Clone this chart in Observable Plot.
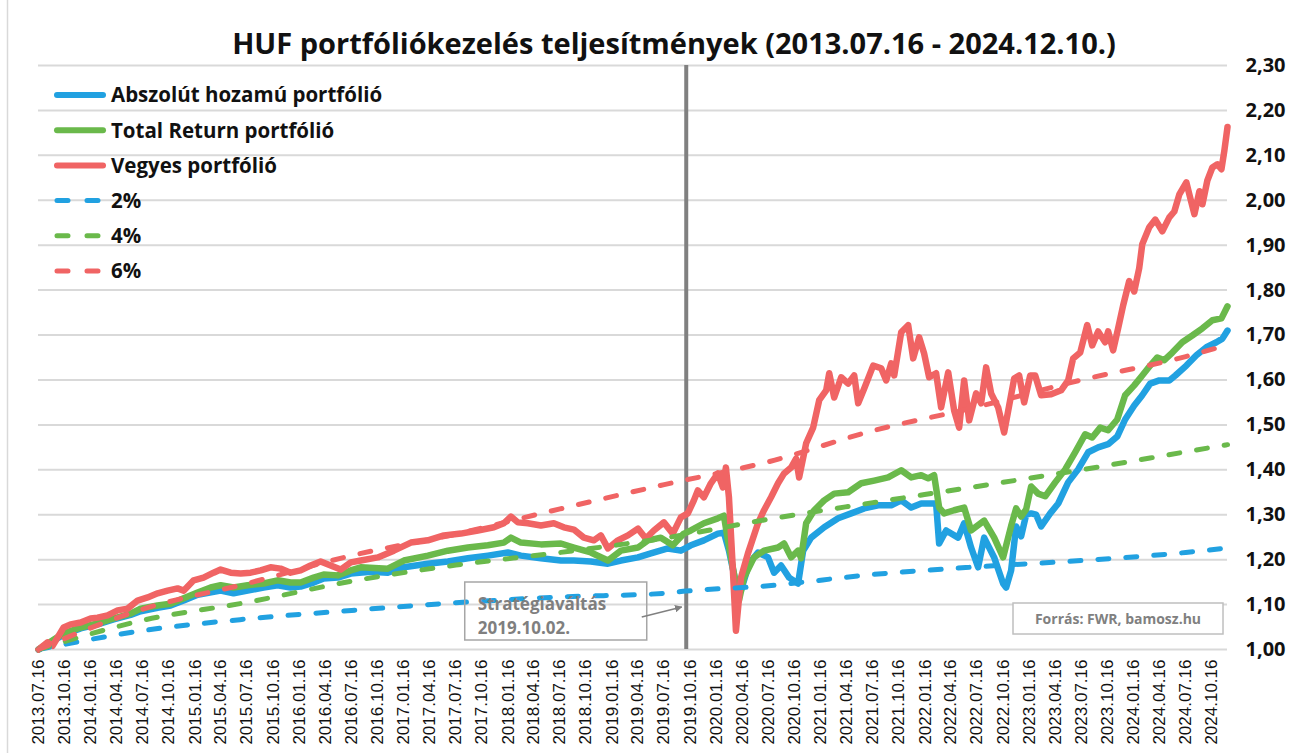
<!DOCTYPE html>
<html><head><meta charset="utf-8">
<script src="https://cdn.jsdelivr.net/npm/d3@7"></script>
<script src="https://cdn.jsdelivr.net/npm/@observablehq/plot@0.6"></script>
<style>
body{margin:0;background:#fff;}
#chart{position:relative;width:1289px;height:753px;}
</style></head><body><div id="chart"></div>
<script>
const chartTitle = "HUF portfóliókezelés teljesítmények (2013.07.16 - 2024.12.10.)";
const seriesNames = ["Abszolút hozamú portfólió","Total Return portfólió","Vegyes portfólió","2%","4%","6%"];
const seriesColors = ["#21a1e1","#6ab94b","#f06464","#21a1e1","#6ab94b","#f06464"];
const switchLabel = ["Stratégiaváltás","2019.10.02."];
const switchDate = "2019.10.02";
const sourceText = "Forrás: FWR, bamosz.hu";
const startDate = "2013.07.16", endDate = "2024.12.10";

// values: [decimal year, index value]
const abszolut = [[2013.537,1.000],[2013.778,1.033],[2013.941,1.047],[2014.104,1.056],[2014.258,1.067],[2014.421,1.077],[2014.517,1.085],[2014.680,1.093],[2014.805,1.098],[2014.930,1.109],[2015.064,1.122],[2015.285,1.131],[2015.409,1.125],[2015.544,1.131],[2015.697,1.138],[2015.832,1.143],[2015.956,1.138],[2016.052,1.140],[2016.177,1.149],[2016.273,1.158],[2016.408,1.160],[2016.532,1.169],[2016.724,1.173],[2016.887,1.171],[2017.041,1.183],[2017.271,1.191],[2017.463,1.196],[2017.655,1.203],[2017.847,1.209],[2018.039,1.216],[2018.164,1.209],[2018.356,1.203],[2018.548,1.198],[2018.672,1.198],[2018.835,1.196],[2018.999,1.191],[2019.124,1.198],[2019.287,1.205],[2019.411,1.214],[2019.574,1.225],[2019.699,1.220],[2019.795,1.232],[2019.920,1.243],[2020.054,1.258],[2020.112,1.260],[2020.160,1.220],[2020.227,1.147],[2020.275,1.131],[2020.352,1.191],[2020.438,1.216],[2020.534,1.205],[2020.592,1.171],[2020.659,1.187],[2020.736,1.160],[2020.822,1.147],[2020.870,1.220],[2020.947,1.249],[2021.072,1.272],[2021.206,1.292],[2021.331,1.303],[2021.456,1.314],[2021.590,1.321],[2021.715,1.321],[2021.811,1.332],[2021.907,1.316],[2022.003,1.325],[2022.146,1.325],[2022.175,1.236],[2022.242,1.265],[2022.357,1.249],[2022.415,1.281],[2022.482,1.227],[2022.549,1.183],[2022.607,1.249],[2022.703,1.205],[2022.789,1.147],[2022.818,1.138],[2022.866,1.176],[2022.914,1.274],[2022.962,1.252],[2023.010,1.300],[2023.058,1.303],[2023.106,1.300],[2023.154,1.274],[2023.241,1.303],[2023.318,1.325],[2023.413,1.372],[2023.509,1.401],[2023.605,1.439],[2023.701,1.450],[2023.797,1.457],[2023.884,1.474],[2023.960,1.512],[2024.047,1.543],[2024.124,1.566],[2024.200,1.592],[2024.287,1.599],[2024.383,1.599],[2024.441,1.610],[2024.546,1.632],[2024.642,1.655],[2024.738,1.673],[2024.834,1.684],[2024.891,1.692],[2024.940,1.710]];

const totalReturn = [[2013.537,1.000],[2013.778,1.036],[2013.941,1.049],[2014.104,1.058],[2014.258,1.069],[2014.421,1.080],[2014.517,1.091],[2014.680,1.098],[2014.805,1.102],[2014.930,1.114],[2015.064,1.127],[2015.189,1.138],[2015.285,1.143],[2015.409,1.138],[2015.544,1.143],[2015.697,1.147],[2015.832,1.154],[2015.956,1.149],[2016.052,1.149],[2016.177,1.160],[2016.273,1.167],[2016.408,1.165],[2016.532,1.176],[2016.628,1.183],[2016.887,1.180],[2017.041,1.198],[2017.271,1.209],[2017.463,1.220],[2017.655,1.227],[2017.847,1.232],[2018.000,1.238],[2018.068,1.249],[2018.164,1.238],[2018.356,1.234],[2018.548,1.236],[2018.672,1.227],[2018.835,1.216],[2018.999,1.198],[2019.124,1.220],[2019.287,1.227],[2019.383,1.243],[2019.507,1.249],[2019.622,1.232],[2019.728,1.258],[2019.795,1.265],[2019.920,1.281],[2020.054,1.292],[2020.112,1.298],[2020.150,1.243],[2020.208,1.169],[2020.256,1.109],[2020.304,1.160],[2020.400,1.205],[2020.496,1.220],[2020.630,1.227],[2020.688,1.236],[2020.755,1.205],[2020.822,1.220],[2020.851,1.203],[2020.899,1.281],[2020.976,1.310],[2021.072,1.332],[2021.168,1.347],[2021.302,1.350],[2021.427,1.370],[2021.552,1.376],[2021.686,1.383],[2021.811,1.399],[2021.907,1.383],[2022.003,1.388],[2022.070,1.381],[2022.127,1.388],[2022.175,1.316],[2022.223,1.303],[2022.319,1.310],[2022.415,1.316],[2022.482,1.265],[2022.607,1.287],[2022.703,1.249],[2022.789,1.205],[2022.866,1.275],[2022.914,1.314],[2022.962,1.296],[2023.010,1.312],[2023.058,1.363],[2023.125,1.347],[2023.193,1.341],[2023.289,1.372],[2023.385,1.401],[2023.480,1.439],[2023.576,1.479],[2023.644,1.472],[2023.721,1.494],[2023.797,1.488],[2023.884,1.512],[2023.960,1.566],[2024.047,1.588],[2024.124,1.610],[2024.200,1.632],[2024.268,1.650],[2024.335,1.644],[2024.412,1.661],[2024.507,1.684],[2024.603,1.699],[2024.700,1.715],[2024.795,1.733],[2024.882,1.737],[2024.940,1.764]];

const vegyes = [[2013.537,1.000],[2013.624,1.016],[2013.672,1.008],[2013.778,1.049],[2013.845,1.056],[2013.941,1.060],[2014.037,1.069],[2014.104,1.071],[2014.200,1.076],[2014.296,1.087],[2014.392,1.091],[2014.488,1.109],[2014.584,1.116],[2014.680,1.125],[2014.776,1.131],[2014.872,1.136],[2014.930,1.131],[2015.026,1.154],[2015.121,1.160],[2015.217,1.171],[2015.285,1.178],[2015.381,1.171],[2015.477,1.169],[2015.573,1.171],[2015.669,1.176],[2015.764,1.183],[2015.860,1.180],[2015.956,1.171],[2016.052,1.176],[2016.148,1.187],[2016.244,1.196],[2016.340,1.187],[2016.436,1.178],[2016.532,1.194],[2016.628,1.198],[2016.791,1.205],[2016.945,1.220],[2017.108,1.238],[2017.271,1.243],[2017.425,1.254],[2017.588,1.258],[2017.751,1.265],[2017.905,1.272],[2018.000,1.281],[2018.068,1.296],[2018.135,1.283],[2018.231,1.281],[2018.356,1.276],[2018.480,1.281],[2018.576,1.272],[2018.672,1.267],[2018.768,1.249],[2018.864,1.243],[2018.931,1.254],[2018.999,1.225],[2019.095,1.243],[2019.191,1.254],[2019.287,1.269],[2019.363,1.247],[2019.440,1.265],[2019.536,1.283],[2019.622,1.258],[2019.699,1.294],[2019.766,1.303],[2019.824,1.332],[2019.862,1.354],[2019.920,1.339],[2019.987,1.370],[2020.054,1.392],[2020.102,1.361],[2020.131,1.405],[2020.160,1.339],[2020.198,1.176],[2020.227,1.042],[2020.275,1.160],[2020.342,1.214],[2020.438,1.281],[2020.496,1.310],[2020.563,1.339],[2020.630,1.370],[2020.688,1.392],[2020.755,1.405],[2020.803,1.425],[2020.832,1.383],[2020.899,1.459],[2020.966,1.494],[2021.024,1.555],[2021.091,1.577],[2021.120,1.615],[2021.168,1.561],[2021.235,1.606],[2021.302,1.592],[2021.360,1.610],[2021.398,1.548],[2021.456,1.581],[2021.542,1.632],[2021.619,1.626],[2021.667,1.599],[2021.715,1.637],[2021.744,1.610],[2021.811,1.706],[2021.878,1.722],[2021.926,1.648],[2021.983,1.695],[2022.031,1.659],[2022.079,1.606],[2022.146,1.615],[2022.194,1.539],[2022.262,1.617],[2022.319,1.532],[2022.367,1.494],[2022.415,1.599],[2022.463,1.510],[2022.530,1.570],[2022.578,1.548],[2022.626,1.628],[2022.674,1.570],[2022.741,1.539],[2022.799,1.483],[2022.847,1.543],[2022.895,1.603],[2022.943,1.610],[2022.991,1.550],[2023.049,1.610],[2023.097,1.610],[2023.154,1.566],[2023.250,1.568],[2023.346,1.577],[2023.413,1.599],[2023.461,1.648],[2023.529,1.661],[2023.596,1.722],[2023.644,1.677],[2023.701,1.708],[2023.768,1.684],[2023.797,1.708],[2023.845,1.666],[2023.893,1.715],[2023.941,1.766],[2023.999,1.820],[2024.047,1.797],[2024.095,1.849],[2024.124,1.902],[2024.191,1.940],[2024.249,1.957],[2024.316,1.931],[2024.383,1.962],[2024.431,1.975],[2024.479,2.013],[2024.546,2.040],[2024.575,2.013],[2024.623,1.969],[2024.671,2.020],[2024.700,1.991],[2024.747,2.044],[2024.795,2.073],[2024.843,2.080],[2024.882,2.069],[2024.910,2.111],[2024.940,2.163]];

const ref2 = [[2013.537,1.000],[2014.540,1.042],[2015.540,1.068],[2016.540,1.087],[2017.540,1.104],[2018.540,1.117],[2019.540,1.125],[2019.750,1.130],[2020.540,1.142],[2021.540,1.167],[2022.540,1.184],[2023.540,1.198],[2024.540,1.216],[2024.940,1.226]];
const ref4 = [[2013.537,1.000],[2014.540,1.065],[2015.540,1.105],[2016.540,1.152],[2017.540,1.188],[2018.540,1.216],[2019.540,1.248],[2020.540,1.290],[2021.540,1.327],[2022.540,1.363],[2023.540,1.400],[2024.540,1.440],[2024.940,1.456]];
const ref6 = [[2013.537,1.000],[2014.540,1.090],[2015.540,1.147],[2016.540,1.209],[2017.540,1.257],[2018.540,1.313],[2019.540,1.367],[2020.540,1.418],[2021.540,1.487],[2022.540,1.540],[2023.540,1.600],[2024.540,1.652],[2024.880,1.674]];

const xTickLabels = ["2013.07.16","2013.10.16","2014.01.16","2014.04.16","2014.07.16","2014.10.16","2015.01.16","2015.04.16","2015.07.16","2015.10.16","2016.01.16","2016.04.16","2016.07.16","2016.10.16","2017.01.16","2017.04.16","2017.07.16","2017.10.16","2018.01.16","2018.04.16","2018.07.16","2018.10.16","2019.01.16","2019.04.16","2019.07.16","2019.10.16","2020.01.16","2020.04.16","2020.07.16","2020.10.16","2021.01.16","2021.04.16","2021.07.16","2021.10.16","2022.01.16","2022.04.16","2022.07.16","2022.10.16","2023.01.16","2023.04.16","2023.07.16","2023.10.16","2024.01.16","2024.04.16","2024.07.16","2024.10.16"];
const yTicks = [1.0,1.1,1.2,1.3,1.4,1.5,1.6,1.7,1.8,1.9,2.0,2.1,2.2,2.3];

// helpers
const parseDot = s => { const [y,m,d] = s.split(".").map(Number); return new Date(Date.UTC(y,m-1,d)); };
const fromDecimal = dy => { const y = Math.floor(dy); const a = Date.UTC(y,0,1), b = Date.UTC(y+1,0,1); return new Date(a + (dy-y)*(b-a)); };
const toRows = (arr, name) => arr.map(([t,v]) => ({date: fromDecimal(t), value: v, name}));
const tickDates = xTickLabels.map(parseDot);
const labelOf = new Map(tickDates.map((d,i) => [+d, xTickLabels[i]]));

const solid = [abszolut, totalReturn, vegyes];
const dashed = [ref2, ref4, ref6];

const font = "'Open Sans', sans-serif";
const plot = Plot.plot({
  width: 1289, height: 753,
  marginTop: 65, marginBottom: 104, marginLeft: 38, marginRight: 62,
  style: {fontFamily: font, background: "transparent", overflow: "visible"},
  x: {type: "utc", domain: [parseDot(startDate), parseDot(endDate)]},
  y: {domain: [1.0, 2.3]},
  marks: [
    Plot.ruleY(yTicks, {stroke: "#d9d9d9", strokeWidth: 2}),
    Plot.axisX(tickDates, {tickFormat: d => labelOf.get(+d), tickRotate: -90, tickSize: 0, tickPadding: 10, label: null, fontSize: 17, fill: "#111"}),
    Plot.axisY(yTicks, {anchor: "right", tickFormat: d => d.toFixed(2).replace(".", ","), tickSize: 0, tickPadding: 18, label: null, fontSize: 20, fontWeight: "bold", fill: "#111"}),
    Plot.ruleX([parseDot(switchDate)], {stroke: "#808080", strokeWidth: 4}),
    ...solid.map((s,i) => Plot.line(toRows(s, seriesNames[i]), {x: "date", y: "value", stroke: seriesColors[i], strokeWidth: 6.5, strokeLinejoin: "round", strokeLinecap: "round"})),
    ...dashed.map((s,i) => Plot.line(toRows(s, seriesNames[i+3]), {x: "date", y: "value", stroke: seriesColors[i+3], strokeWidth: 5, strokeDasharray: "11,17", strokeLinecap: "round", curve: "monotone-x"}))
  ]
});
document.getElementById("chart").appendChild(plot);

const svg = d3.select(plot);
svg.selectAll('g[aria-label="x-axis tick label"] text').style("font-family", "'Liberation Sans', Arial, sans-serif");
const xs = plot.scale("x"), ys = plot.scale("y");

// chart border (left)
svg.insert("line", ":first-child").attr("x1", 7.5).attr("x2", 7.5).attr("y1", 0).attr("y2", 753).attr("stroke", "#d9d9d9").attr("stroke-width", 1.5);

// title
svg.append("text").attr("x", 674).attr("y", 54).attr("text-anchor", "middle")
  .attr("font-family", font).attr("font-weight", "bold").attr("font-size", 29).attr("fill", "#111").text(chartTitle);

// legend
const lg = svg.append("g").attr("text-anchor", "start");
seriesNames.forEach((n, i) => {
  const y = 95 + i * 35.2;
  lg.append("line").attr("x1", 57).attr("x2", 103).attr("y1", y).attr("y2", y)
    .attr("stroke", seriesColors[i]).attr("stroke-width", i < 3 ? 6 : 5).attr("stroke-linecap", "round")
    .attr("stroke-dasharray", i < 3 ? null : "11,19");
  lg.append("text").attr("x", 111).attr("y", y).attr("dy", "0.36em").attr("text-anchor", "start")
    .attr("font-family", font).attr("font-weight", "bold").attr("font-size", 20.5).attr("fill", "#111").text(n);
});

// strategy switch annotation
const xsw = xs.apply(parseDot(switchDate));
const ann = svg.append("g").attr("text-anchor", "start");
ann.append("rect").attr("x", xsw - 221).attr("y", 582).attr("width", 182).attr("height", 58)
  .attr("fill", "none").attr("stroke", "#a6a6a6").attr("stroke-width", 1.5);
switchLabel.forEach((t, i) => ann.append("text").attr("x", xsw - 208).attr("y", 610 + i * 24).attr("text-anchor", "start")
  .attr("font-family", font).attr("font-weight", "bold").attr("font-size", 17).attr("fill", "#7f7f7f").text(t));
svg.append("defs").append("marker").attr("id", "arr").attr("viewBox", "0 0 10 10").attr("refX", 9).attr("refY", 5)
  .attr("markerWidth", 5).attr("markerHeight", 5).attr("orient", "auto")
  .append("path").attr("d", "M0,0L10,5L0,10z").attr("fill", "#808080");
ann.append("line").attr("x1", xsw - 44).attr("y1", 617).attr("x2", xsw - 4).attr("y2", 607)
  .attr("stroke", "#808080").attr("stroke-width", 1.5).attr("marker-end", "url(#arr)");

// source box
const sb = svg.append("g");
sb.append("rect").attr("x", 1013).attr("y", 603).attr("width", 210).attr("height", 31)
  .attr("fill", "#fff").attr("stroke", "#bfbfbf").attr("stroke-width", 1.5);
sb.append("text").attr("x", 1118).attr("y", 624).attr("text-anchor", "middle")
  .attr("font-family", font).attr("font-weight", "bold").attr("font-size", 14).attr("fill", "#808080").text(sourceText);
</script></body></html>
